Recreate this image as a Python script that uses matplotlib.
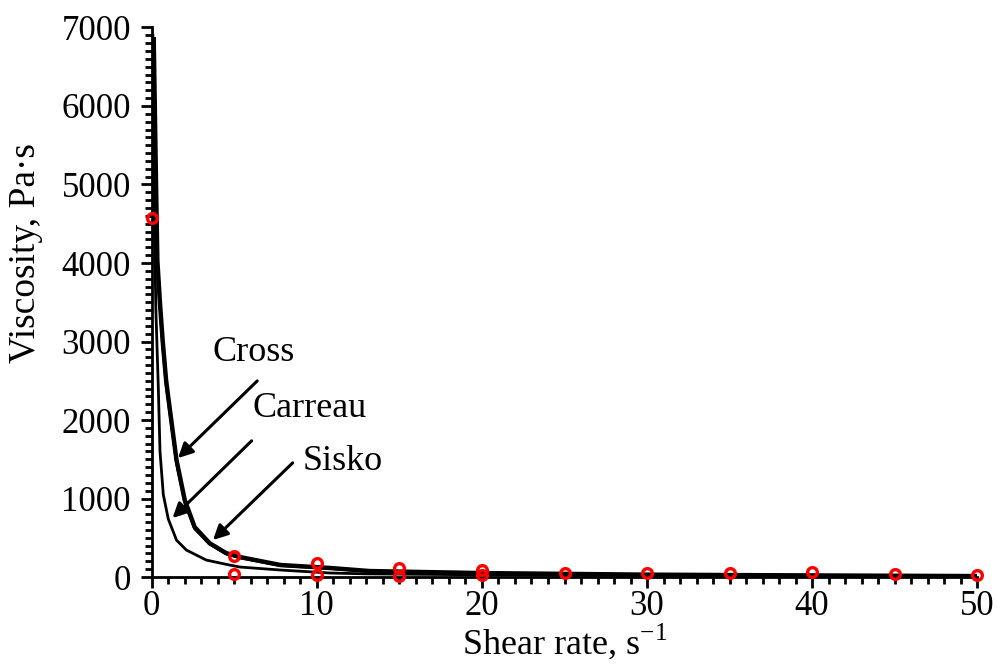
import numpy as np
import matplotlib.pyplot as plt
from matplotlib.ticker import MultipleLocator

plt.rcParams['font.family'] = ['Liberation Serif', 'DejaVu Serif']
plt.rcParams['mathtext.fontset'] = 'custom'
plt.rcParams['mathtext.rm'] = 'Liberation Serif'

# model curves
cross_x = [0.12, 0.26, 0.34, 0.5, 0.66, 0.87, 1.0, 1.5, 2.0, 2.6, 3.5, 4.5, 5.35, 7.8, 10.8, 13.2, 20, 30, 40, 50]
cross_y = [6850, 5000, 4030, 3485, 3015, 2505, 2290, 1490, 980, 636, 432, 305, 254, 153, 115, 76, 50, 30, 20, 12]

sisko_x = [0.12, 0.26, 0.34, 0.5, 0.66, 0.87, 1.0, 1.5, 2.0, 2.6, 3.5, 4.5, 5.35, 7.8, 10.8, 13.2, 20, 30, 40, 50]
sisko_y = [6700, 4900, 3950, 3420, 2950, 2450, 2240, 1450, 950, 615, 420, 295, 245, 145, 108, 72, 48, 30, 22, 15]

carreau_x = [0.07, 0.15, 0.25, 0.4, 0.5, 0.7, 1.0, 1.5, 2.1, 3.3, 4.7, 5.35, 7.8, 10.8, 13.0, 20, 30, 40, 50]
carreau_y = [6900, 4600, 3400, 2400, 1600, 1050, 740, 470, 343, 216, 153, 127, 89, 51, 40, 28, 18, 12, 8]

# measured points
exp1_x = [0.0, 5, 10, 15, 20, 25, 30, 35, 40, 45, 50]
exp1_y = [4570, 267, 174, 110, 89, 47, 47, 47, 60, 34, 25]
exp2_x = [5, 10, 15, 20]
exp2_y = [40, 25, 13, 25]

fig = plt.figure(figsize=(9.97, 6.64), dpi=100)
ax = fig.add_axes([0.1522, 0.131, 0.828, 0.8276])

ax.plot(carreau_x, carreau_y, color='black', lw=2.0)
ax.plot(sisko_x, sisko_y, color='black', lw=2.0)
ax.plot(cross_x, cross_y, color='black', lw=3.2)
ax.plot(exp1_x, exp1_y, 'o', mfc='none', mec='red', mew=2.4, ms=7, clip_on=False, zorder=5)
ax.plot(exp2_x, exp2_y, 'o', mfc='none', mec='red', mew=2.4, ms=7, clip_on=False, zorder=5)

ax.set_xlim(0, 50)
ax.set_ylim(0, 7000)
ax.xaxis.set_major_locator(MultipleLocator(10))
ax.xaxis.set_minor_locator(MultipleLocator(1))
ax.yaxis.set_major_locator(MultipleLocator(1000))
ax.yaxis.set_minor_locator(MultipleLocator(100))

for s in ['top', 'right']:
    ax.spines[s].set_visible(False)
for s in ['left', 'bottom']:
    ax.spines[s].set_linewidth(2.0)

ax.tick_params(which='major', direction='out', length=8, width=2.0, labelsize=25)
ax.tick_params(axis='y', which='major', pad=7)
ax.tick_params(axis='x', which='major', pad=1)
ax.tick_params(which='minor', direction='out', length=5, width=2.0)

ax.set_xlabel('Shear rate, s$^{-1}$', fontsize=26, va='center')
ax.xaxis.set_label_coords(0.5, -0.118)
ax.set_ylabel('Viscosity, Pa·s', fontsize=27, va='center')
ax.yaxis.set_label_coords(-0.153, 0.59)

arrow = dict(arrowstyle='-|>', color='black', lw=2.2, mutation_scale=22, shrinkA=0, shrinkB=0)
ax.annotate('', xy=(1.59, 1515), xytext=(6.39, 2498), arrowprops=arrow)
ax.annotate('', xy=(1.26, 751), xytext=(6.05, 1735), arrowprops=arrow)
ax.annotate('', xy=(3.71, 471), xytext=(8.54, 1455), arrowprops=arrow)

ax.text(3.71, 2864, 'Cross', fontsize=26, va='center', ha='left')
ax.text(6.11, 2150, 'Carreau', fontsize=26, va='center', ha='left')
ax.text(9.14, 1470, 'Sisko', fontsize=26, va='center', ha='left')

fig.savefig('out.png', dpi=100)
